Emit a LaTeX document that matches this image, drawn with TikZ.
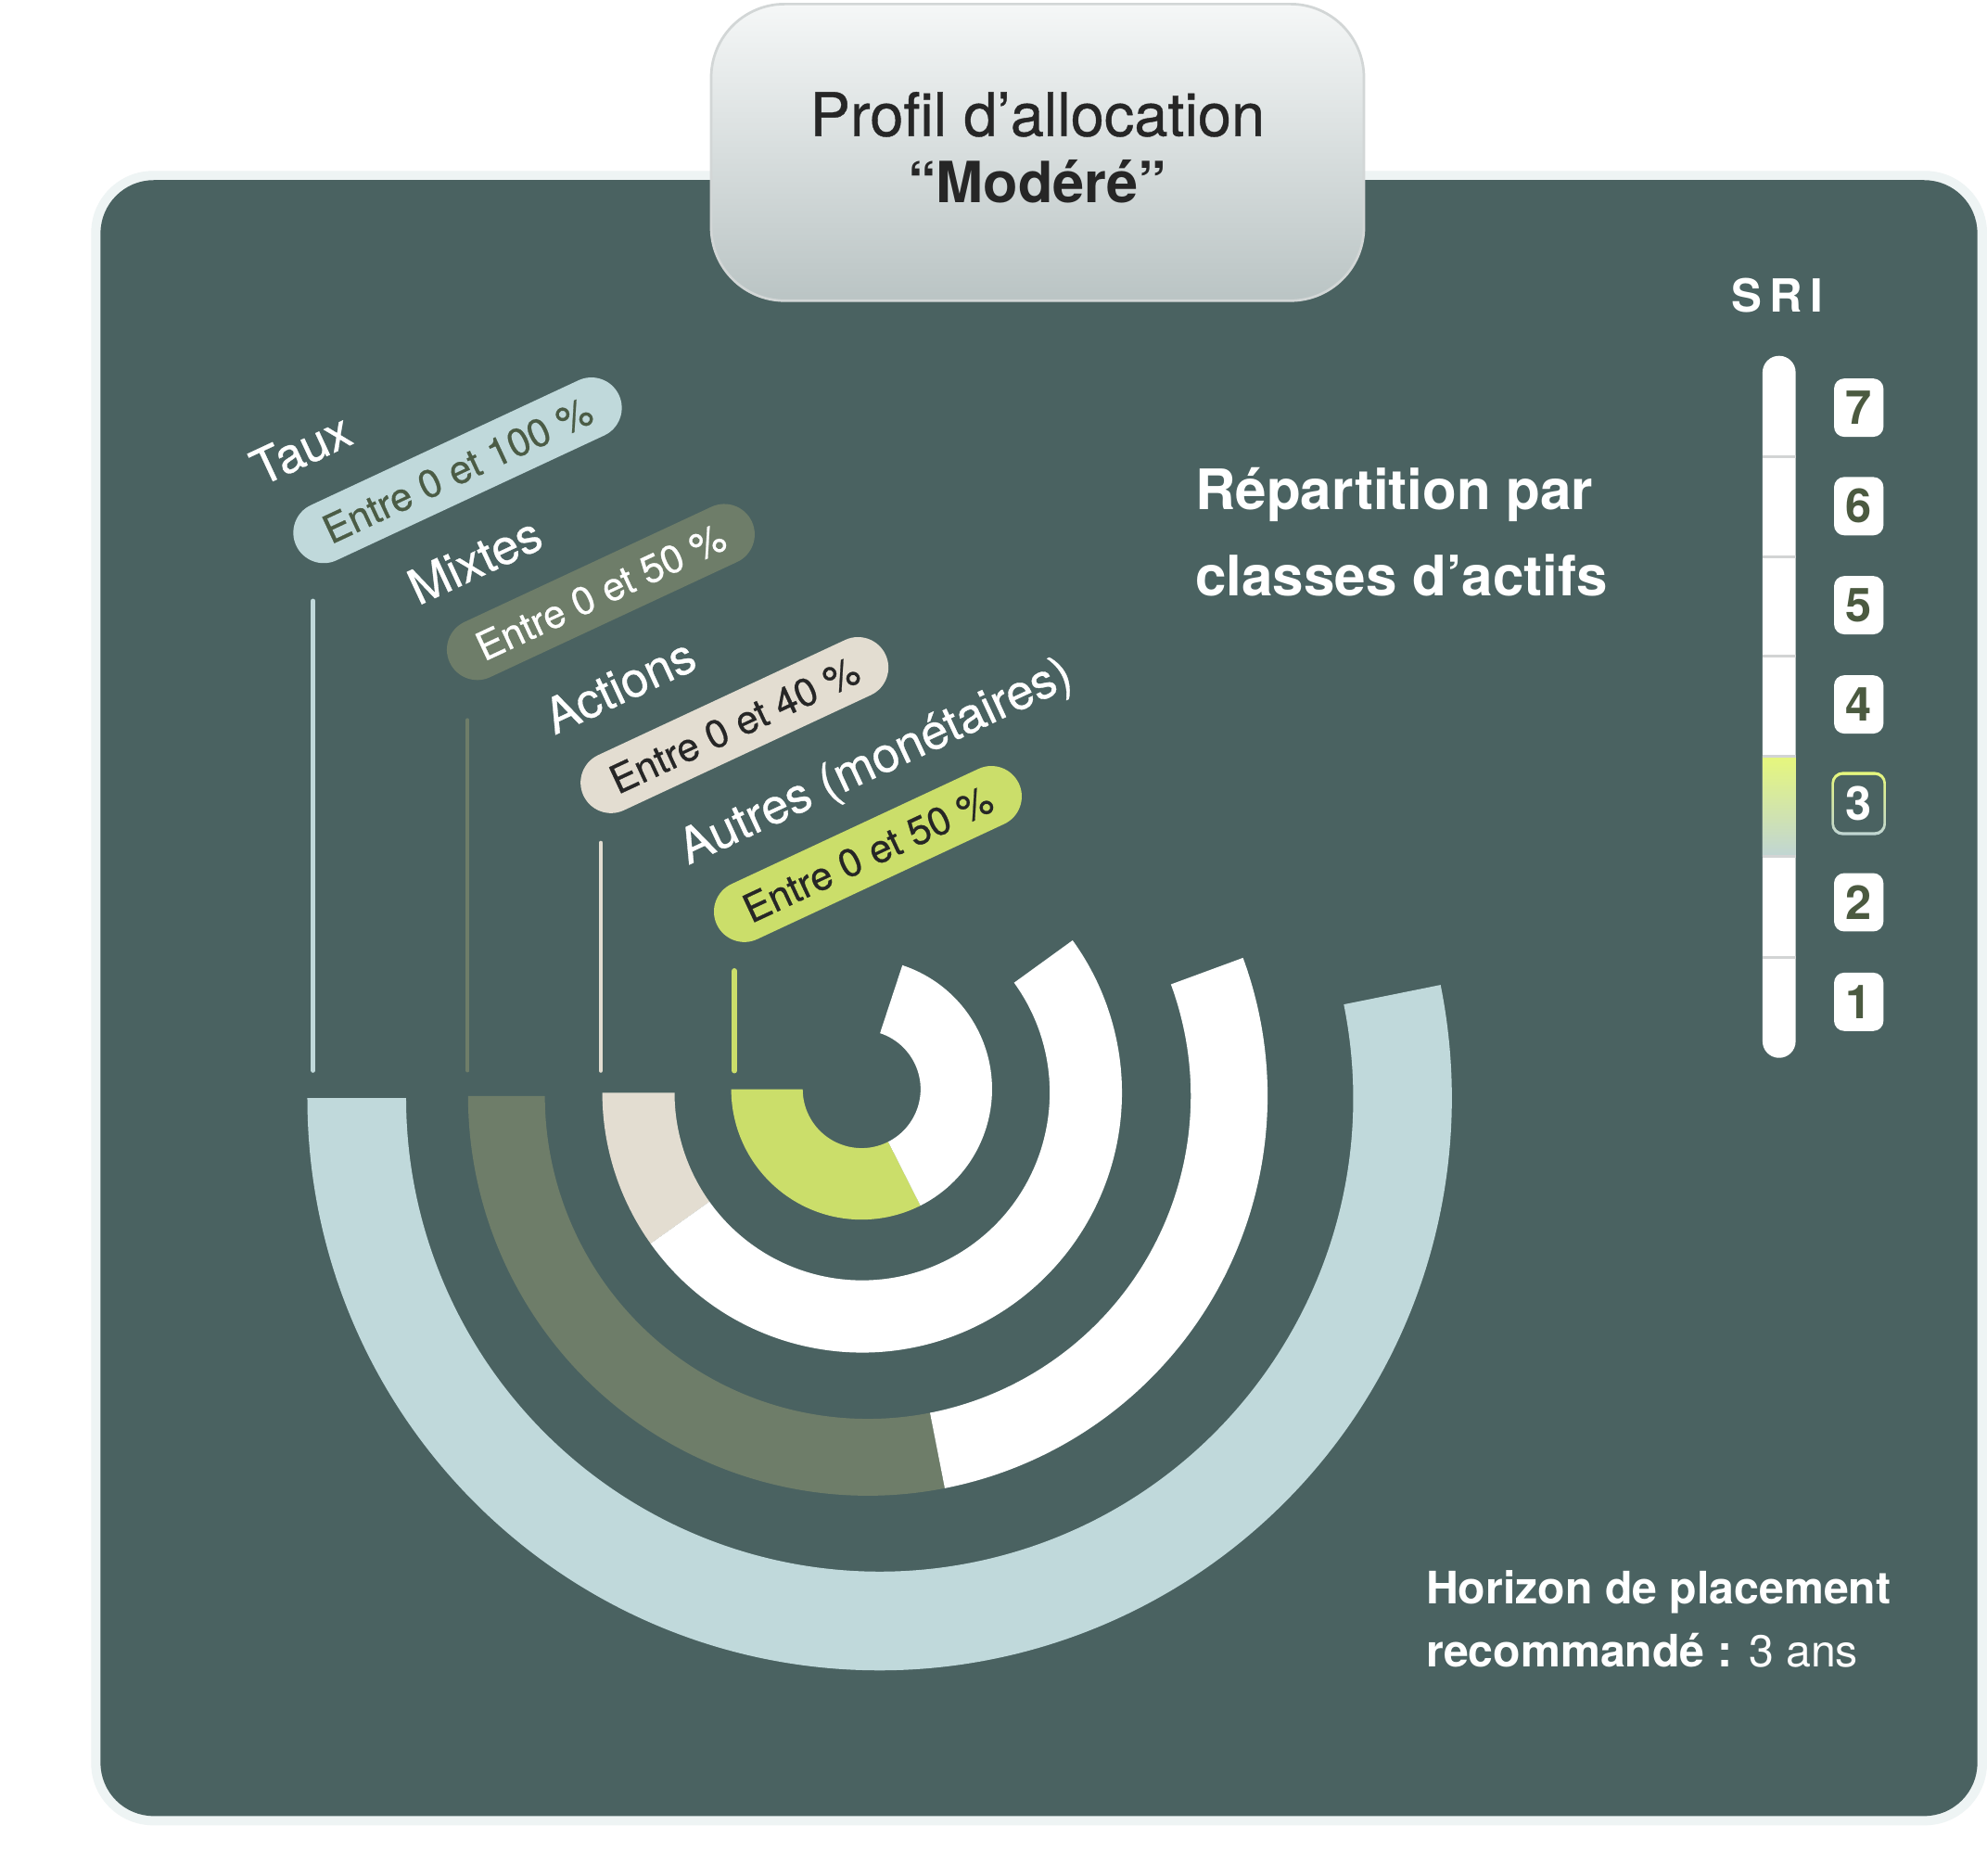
\documentclass[tikz,border=0pt]{standalone}
\usepackage{fontspec}
\setmainfont{TeX Gyre Heros}
\newfontfamily\medfont{TeX Gyre Heros}[FakeBold=0.6]
\definecolor{panel}{HTML}{4A6261}
\definecolor{lightb}{HTML}{EEF4F4}
\definecolor{tauxc}{HTML}{C0D9DB}
\definecolor{mixc}{HTML}{6E7D69}
\definecolor{actc}{HTML}{E3DDD1}
\definecolor{autc}{HTML}{CBDE6A}
\definecolor{darkol}{HTML}{4B5C45}
\definecolor{txtdark}{HTML}{262626}
\definecolor{ttop}{HTML}{F5F7F7}
\definecolor{tbot}{HTML}{BAC4C4}
\definecolor{tbord}{HTML}{D2D6D6}
\definecolor{sriY}{HTML}{E6F77C}
\definecolor{sriB}{HTML}{C0D5D4}
\definecolor{sepc}{HTML}{D2D4D4}
\definecolor{numc}{HTML}{4B5A40}
\newcommand\ringseg[7]{\fill[#1,shift={(#2,#3)}] (#6:#5) arc[start angle=#6,end angle=#7,radius=#5] -- (#7:#4) arc[start angle=#7,end angle=#6,radius=#4] -- cycle;}
\begin{document}
\begin{tikzpicture}[x=1pt,y=1pt,
  lbl/.style={text=white,font=\medfont\fontsize{38.5}{42}\selectfont,anchor=base west,rotate=25,inner sep=0pt},
  pill/.style={rotate=25,rounded corners=24pt,minimum height=48pt,minimum width=263pt,inner sep=0pt,text height=22pt,text depth=0pt,font=\medfont\fontsize{31}{34}\selectfont},
  leader/.style={line width=3.5pt,line cap=round},
  numbox/.style={fill=white,rounded corners=8pt,minimum width=39pt,minimum height=46pt,inner sep=0pt,text=numc,text height=26.5pt,text depth=0pt,font=\bfseries\fontsize{37}{40}\selectfont},
  bigtxt/.style={text=white,anchor=base west,inner sep=0pt,font=\bfseries\fontsize{44}{48}\selectfont},
  hortxt/.style={text=white,anchor=base west,inner sep=0pt,font=\fontsize{35.3}{40}\selectfont}
]
\useasboundingbox (0,0) rectangle (1567.7,-1479.2);
\fill[white] (0,0) rectangle (1567.7,-1479.2);
% panel
\fill[lightb,rounded corners=49pt] (71.9,-134.8) rectangle (1567.7,-1439.9);
\fill[panel,rounded corners=42pt] (79.3,-142.1) rectangle (1560.1,-1432.6);
% title
\node[draw=tbord,line width=2pt,rounded corners=58pt,top color=ttop,bottom color=tbot,minimum width=515pt,minimum height=234pt] (titlebox) at (818.6,-120.2) {};
\node[anchor=base,inner sep=0pt,font=\medfont\fontsize{47.5}{52}\selectfont,text=txtdark] (t1) at (818.5,-107.3) {Profil d’allocation};
\node[anchor=base,inner sep=0pt,font=\bfseries\fontsize{44.8}{48}\selectfont,text=txtdark] (t2) at (818.5,-159.7) {“Modéré”};
% rings
\ringseg{tauxc}{694}{-866.2}{373.6}{451.5}{180}{371.4}
\ringseg{mixc}{684.7}{-864.5}{254.8}{315.4}{180}{281.1}
\ringseg{white}{684.7}{-864.5}{254.8}{315.4}{281.1}{380.2}
\ringseg{actc}{680.2}{-862}{148}{205}{180}{215.5}
\ringseg{white}{680.2}{-862}{148}{205}{215.5}{395.9}
\ringseg{autc}{679.8}{-859.2}{46.5}{102.9}{180}{296.8}
\ringseg{white}{679.8}{-859.2}{46.5}{102.9}{296.8}{431.8}
% leader lines
\coordinate (tauxA) at (247,-474);  \coordinate (tauxB) at (247,-844.5);
\coordinate (mixA) at (369,-568);   \coordinate (mixB) at (369,-844.5);
\coordinate (actA) at (474,-665);   \coordinate (actB) at (474,-844.5);
\coordinate (autA) at (579.5,-766); \coordinate (autB) at (579.5,-844.5);
\draw[leader,tauxc] (tauxA) -- (tauxB);
\draw[leader,mixc,line width=3pt] (mixA) -- (mixB);
\draw[leader,actc] (actA) -- (actB);
\draw[leader,autc,line width=4.5pt] (autA) -- (autB);
% labels
\node[lbl] (taux) at (206,-384) {Taux};
\node[pill,fill=tauxc,text=darkol,minimum width=281pt] (ptaux) at (361,-371) {Entre 0 et 100 \%};
\node[lbl] (mix) at (330,-478) {Mixtes};
\node[pill,fill=mixc,text=white] (pmix) at (474,-467) {Entre 0 et 50 \%};
\node[lbl] (act) at (437.5,-580) {Actions};
\node[pill,fill=actc,text=txtdark] (pact) at (579.5,-572) {Entre 0 et 40 \%};
\node[lbl] (aut) at (543,-682.5) {Autres (monétaires)};
\node[pill,fill=autc,text=txtdark] (paut) at (684.7,-673.7) {Entre 0 et 50 \%};
% right texts
\node[bigtxt] (rep1) at (943,-402) {Répartition par};
\node[bigtxt] (rep2) at (943,-470) {classes d’actifs};
\node[hortxt] (hor1) at (1125,-1265) {\bfseries Horizon de placement};
\node[hortxt] (hor2) at (1125,-1315) {\textbf{recommandé :} 3 ans};
% SRI
\node[anchor=base,inner sep=0pt,text=white,font=\bfseries\fontsize{36}{40}\selectfont] (sri) at (1402.3,-246) {S\kern6pt R\kern6pt I};
\fill[white,rounded corners=13pt] (1390.6,-280.7) rectangle (1416.7,-834.5);
\shade[top color=sriY,bottom color=sriB] (1390.6,-596.3) rectangle (1416.7,-675.7);
\foreach \yy in {360.2,439.6,517.7,596.3,675.7,755.2}{
  \draw[sepc,line width=2.2pt] (1390.6,-\yy) -- (1416.7,-\yy);
}
\node[numbox] (s7) at (1466.5,-321.6) {7};
\node[numbox] (s6) at (1466.5,-399.3) {6};
\node[numbox] (s5) at (1466.5,-477.4) {5};
\node[numbox] (s4) at (1466.5,-555.7) {4};
\shade[top color=sriY,bottom color=sriB,rounded corners=9pt] (1445,-658.9) rectangle (1488,-608.9);
\node[numbox,fill=panel,text=white,minimum width=39pt,minimum height=45pt,rounded corners=7pt] (s3) at (1466.5,-633.9) {3};
\node[numbox] (s2) at (1466.5,-711.8) {2};
\node[numbox] (s1) at (1466.5,-790.3) {1};
\end{tikzpicture}
\end{document}
